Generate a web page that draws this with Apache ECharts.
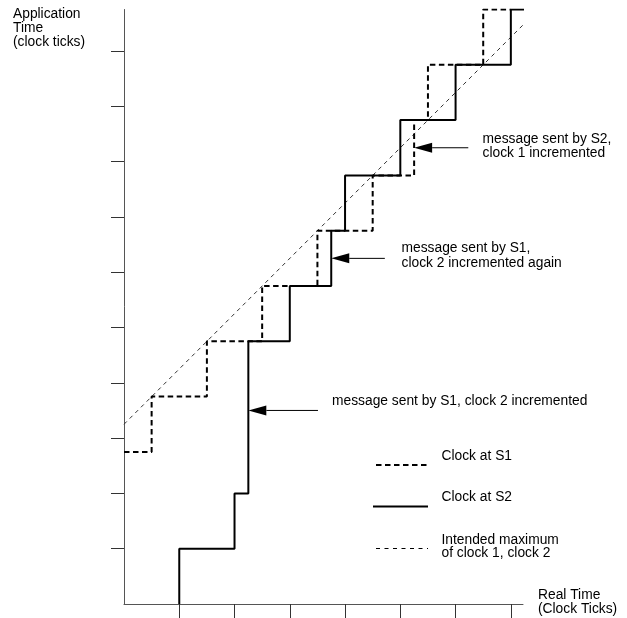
<!DOCTYPE html>
<html>
<head>
<meta charset="utf-8">
<script src="https://cdn.jsdelivr.net/npm/echarts@6/dist/echarts.min.js"></script>
<style>
html,body{margin:0;padding:0;background:#fff;}
#c{width:627px;height:618px;}
</style>
</head>
<body>
<div id="c"></div>
<script>
// ---- data ----
const s1Time  = [0, 0.5, 1.5, 2.5, 3.5, 4.5, 5.25, 5.5, 6.5, 7];
const s1Value = [2.75, 3.75, 4.75, 5.75, 6.75, 7.75, 8.75, 9.75, 10.75, 10.75];
const s2Time  = [1, 1, 2, 2.25, 3, 3.75, 4, 5, 6, 7, 7.5];
const s2Value = [0, 1, 2, 4.75, 5.75, 6.75, 7.75, 8.75, 9.75, 10.75, 10.75];
const intendedTime  = [0, 7.5];
const intendedValue = [3.25, 10.75];
const xTicks = [1, 2, 3, 4, 5, 6, 7];
const yTicks = [1, 2, 3, 4, 5, 6, 7, 8, 9, 10];
// annotation arrows: [tailTime, tailValue, tipTime, tipValue]
const arrowTail1 = [3.51, 3.5];  const arrowTip1 = [2.25, 3.5];
const arrowTail2 = [4.72, 6.25]; const arrowTip2 = [3.75, 6.25];
const arrowTail3 = [6.23, 8.25]; const arrowTip3 = [5.25, 8.25];

const zip = (a, b) => a.map((v, i) => [v, b[i]]);
const FONT = '13.8px "Liberation Sans", Arial, sans-serif';

function txt(x, y, s) {
  return { type: 'text', silent: true, style: { x: x, y: y, text: s, font: FONT, fill: '#000', align: 'left', verticalAlign: 'middle', textAlign: 'left', textVerticalAlign: 'middle' } };
}
function seg(x1, y1, x2, y2, w, dash) {
  return { type: 'line', silent: true, shape: { x1: x1, y1: y1, x2: x2, y2: y2 }, style: { stroke: '#000', lineWidth: w, lineDash: dash || null } };
}

const chart = echarts.init(document.getElementById('c'), null, { renderer: 'canvas' });
chart.setOption({
  animation: false,
  backgroundColor: '#fff',
  grid: { left: 124, top: 9.5, width: 399, height: 594.5, containLabel: false, outerBoundsMode: 'none' },
  xAxis: {
    type: 'value', min: 0, max: 7.22,
    axisLine: { show: true, lineStyle: { color: '#555', width: 1 } },
    axisTick: { show: true, length: 15, customValues: xTicks, lineStyle: { color: '#333', width: 1 } },
    axisLabel: { show: false },
    splitLine: { show: false }
  },
  yAxis: {
    type: 'value', min: 0, max: 10.75,
    axisLine: { show: true, lineStyle: { color: '#555', width: 1 } },
    axisTick: { show: true, length: 13, customValues: yTicks, lineStyle: { color: '#333', width: 1 } },
    axisLabel: { show: false },
    splitLine: { show: false }
  },
  series: [
    { name: 'Intended maximum of clock 1, clock 2', type: 'line', data: zip(intendedTime, intendedValue),
      showSymbol: false, symbol: 'none', lineStyle: { color: '#333', width: 1, type: [4, 4] }, z: 1 },
    { name: 'Clock at S1', type: 'line', step: 'end', data: zip(s1Time, s1Value),
      showSymbol: false, symbol: 'none', lineStyle: { color: '#000', width: 2, type: [5.5, 3.5] }, z: 2 },
    { name: 'Clock at S2', type: 'line', step: 'end', data: zip(s2Time, s2Value),
      showSymbol: false, symbol: 'none', lineStyle: { color: '#000', width: 2, type: 'solid' }, z: 3 },
    { type: 'custom', z: 4, clip: false, silent: true,
      data: [arrowTail1.concat(arrowTip1), arrowTail2.concat(arrowTip2), arrowTail3.concat(arrowTip3)],
      encode: { x: [0, 2], y: [1, 3] },
      renderItem: function (params, api) {
        const tail = api.coord([api.value(0), api.value(1)]);
        const tip = api.coord([api.value(2), api.value(3)]);
        const dx = tip[0] - tail[0], dy = tip[1] - tail[1];
        const len = Math.sqrt(dx * dx + dy * dy);
        const ux = dx / len, uy = dy / len;
        const hl = 18, hw = 5;
        const bx = tip[0] - ux * hl, by = tip[1] - uy * hl;
        return { type: 'group', children: [
          { type: 'line', shape: { x1: tail[0], y1: tail[1], x2: bx, y2: by }, style: { stroke: '#000', lineWidth: 1 } },
          { type: 'polygon', shape: { points: [[tip[0], tip[1]], [bx - uy * hw, by + ux * hw], [bx + uy * hw, by - ux * hw]] }, style: { fill: '#000' } }
        ] };
      }
    }
  ],
  graphic: [
    txt(13, 14.5, 'Application'),
    txt(13, 28, 'Time'),
    txt(13, 42, '(clock ticks)'),
    txt(538, 595, 'Real Time'),
    txt(538, 609, '(Clock Ticks)'),
    txt(332, 401, 'message sent by S1, clock 2 incremented'),
    txt(401.5, 248.5, 'message sent by S1,'),
    txt(401.5, 263, 'clock 2 incremented again'),
    txt(482.5, 139.5, 'message sent by S2,'),
    txt(482.5, 153.5, 'clock 1 incremented'),
    txt(441.5, 456.5, 'Clock at S1'),
    txt(441.5, 497.5, 'Clock at S2'),
    txt(441.5, 540, 'Intended maximum'),
    txt(441.5, 553.5, 'of clock 1, clock 2'),
    seg(376, 465, 428, 465, 2, [5.5, 3.5]),
    seg(373, 506.5, 428, 506.5, 2),
    seg(376, 548.5, 428, 548.5, 1, [4, 4.5])
  ]
});
</script>
</body>
</html>
